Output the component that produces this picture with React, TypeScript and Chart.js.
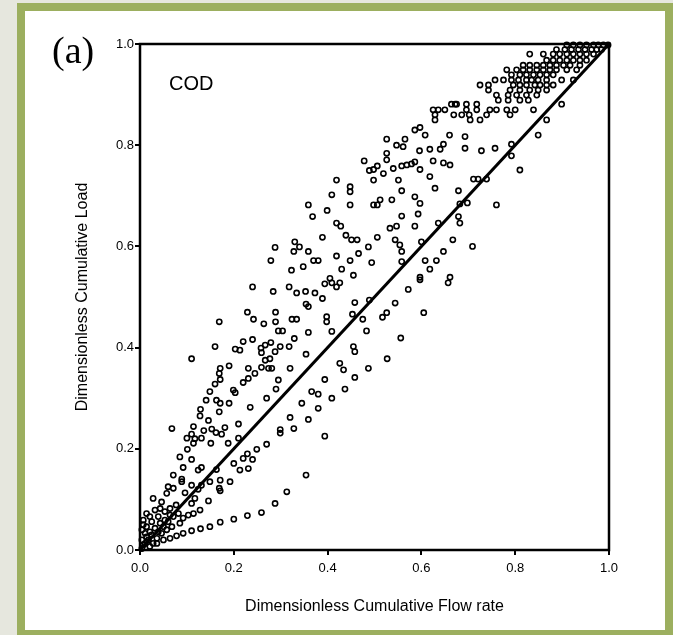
import { useEffect, useRef } from "react";
import { Chart, registerables } from "chart.js";

Chart.register(...registerables);

const xTickValues = [0, 0.2, 0.4, 0.6, 0.8, 1.0];
const yTickValues = [0, 0.2, 0.4, 0.6, 0.8, 1.0];
const xTitle = "Dimensionless Cumulative Flow rate";
const yTitle = "Dimensionless Cumulative Load";
const panelLabel = "(a)";
const pollutantLabel = "COD";

// 1:1 reference line
const lineX = [0, 1];
const lineY = [0, 1];

// observed M(V) points [flow fraction, load fraction]
const codPoints: [number, number][] = [
  [0.24, 0.52], [0.284, 0.511], [0.318, 0.52], [0.334, 0.508], [0.353, 0.511], [0.373, 0.508],
  [0.389, 0.497], [0.394, 0.526], [0.409, 0.528], [0.419, 0.52], [0.426, 0.528], [0.354, 0.486],
  [0.359, 0.481], [0.229, 0.47], [0.289, 0.47], [0.242, 0.456], [0.264, 0.447], [0.289, 0.451],
  [0.324, 0.456], [0.334, 0.456], [0.398, 0.461], [0.398, 0.451], [0.169, 0.451], [0.295, 0.433],
  [0.304, 0.433], [0.359, 0.43], [0.409, 0.432], [0.329, 0.418], [0.24, 0.416], [0.22, 0.412],
  [0.16, 0.402], [0.203, 0.397], [0.213, 0.395], [0.258, 0.399], [0.267, 0.405], [0.279, 0.41],
  [0.259, 0.39], [0.288, 0.392], [0.299, 0.402], [0.318, 0.402], [0.354, 0.387], [0.11, 0.378],
  [0.277, 0.378], [0.267, 0.375], [0.274, 0.359], [0.259, 0.361], [0.281, 0.359], [0.32, 0.359],
  [0.231, 0.359], [0.171, 0.359], [0.19, 0.364], [0.169, 0.349], [0.171, 0.337], [0.231, 0.339],
  [0.245, 0.349], [0.22, 0.331], [0.16, 0.328], [0.149, 0.313], [0.199, 0.316], [0.203, 0.311],
  [0.163, 0.296], [0.141, 0.296], [0.171, 0.29], [0.19, 0.29], [0.235, 0.282], [0.27, 0.3],
  [0.29, 0.318], [0.295, 0.336], [0.426, 0.369], [0.434, 0.356], [0.394, 0.337], [0.458, 0.341],
  [0.487, 0.359], [0.455, 0.402], [0.458, 0.392], [0.483, 0.433], [0.453, 0.466], [0.475, 0.456],
  [0.458, 0.489], [0.489, 0.494], [0.129, 0.278], [0.128, 0.265], [0.146, 0.256], [0.169, 0.273],
  [0.153, 0.239], [0.181, 0.242], [0.174, 0.229], [0.162, 0.232], [0.114, 0.244], [0.11, 0.229],
  [0.117, 0.22], [0.131, 0.221], [0.136, 0.236], [0.151, 0.211], [0.188, 0.211], [0.21, 0.249],
  [0.21, 0.221], [0.068, 0.24], [0.1, 0.221], [0.114, 0.211], [0.32, 0.262], [0.359, 0.258],
  [0.328, 0.24], [0.299, 0.238], [0.299, 0.231], [0.345, 0.29], [0.38, 0.28], [0.366, 0.313],
  [0.38, 0.308], [0.409, 0.3], [0.437, 0.318], [0.394, 0.225], [0.085, 0.184], [0.101, 0.199],
  [0.11, 0.179], [0.092, 0.163], [0.124, 0.158], [0.131, 0.163], [0.071, 0.148], [0.089, 0.135],
  [0.071, 0.122], [0.06, 0.125], [0.057, 0.112], [0.089, 0.14], [0.149, 0.135], [0.171, 0.138],
  [0.169, 0.122], [0.171, 0.117], [0.192, 0.135], [0.2, 0.171], [0.22, 0.181], [0.229, 0.19],
  [0.24, 0.179], [0.249, 0.199], [0.27, 0.209], [0.213, 0.158], [0.231, 0.161], [0.163, 0.159],
  [0.131, 0.128], [0.11, 0.128], [0.096, 0.113], [0.124, 0.12], [0.117, 0.102], [0.11, 0.092],
  [0.146, 0.097], [0.128, 0.079], [0.028, 0.102], [0.046, 0.095], [0.077, 0.089], [0.064, 0.082],
  [0.354, 0.148], [0.313, 0.115], [0.288, 0.092], [0.259, 0.074], [0.229, 0.068], [0.2, 0.061],
  [0.171, 0.055], [0.149, 0.046], [0.129, 0.042], [0.11, 0.038], [0.092, 0.033], [0.078, 0.028],
  [0.064, 0.023], [0.05, 0.02], [0.036, 0.013], [0.007, 0.059], [0.014, 0.046], [0.021, 0.036],
  [0.032, 0.043], [0.043, 0.053], [0.053, 0.059], [0.039, 0.066], [0.025, 0.056], [0.011, 0.033],
  [0.018, 0.02], [0.028, 0.013], [0.007, 0.01], [0.004, 0.02], [0.021, 0.007], [0.036, 0.023],
  [0.046, 0.033], [0.057, 0.04], [0.068, 0.046], [0.071, 0.066], [0.082, 0.072], [0.085, 0.053],
  [0.032, 0.079], [0.043, 0.082], [0.014, 0.072], [0.103, 0.069], [0.114, 0.072], [0.092, 0.063],
  [0.004, 0.003], [0.011, 0.013], [0.014, 0.026], [0.025, 0.03], [0.039, 0.036], [0.05, 0.046],
  [0.06, 0.056], [0.064, 0.069], [0.021, 0.066], [0.004, 0.04], [0.007, 0.05], [0.053, 0.076],
  [0.478, 0.769], [0.489, 0.75], [0.498, 0.752], [0.506, 0.759], [0.498, 0.731], [0.419, 0.731],
  [0.448, 0.718], [0.448, 0.708], [0.409, 0.702], [0.359, 0.682], [0.448, 0.682], [0.498, 0.682],
  [0.506, 0.682], [0.368, 0.659], [0.399, 0.671], [0.419, 0.646], [0.428, 0.64], [0.389, 0.618],
  [0.439, 0.622], [0.451, 0.613], [0.463, 0.613], [0.506, 0.618], [0.487, 0.599], [0.288, 0.598],
  [0.33, 0.609], [0.34, 0.599], [0.328, 0.59], [0.359, 0.59], [0.37, 0.572], [0.38, 0.572],
  [0.419, 0.581], [0.448, 0.572], [0.466, 0.586], [0.494, 0.568], [0.279, 0.572], [0.323, 0.553],
  [0.348, 0.56], [0.43, 0.555], [0.455, 0.543], [0.405, 0.537],
  [0.91, 0.998], [0.924, 0.998], [0.938, 0.998], [0.952, 0.998], [0.967, 0.998], [0.977, 0.998],
  [0.988, 0.998], [0.998, 0.998], [0.888, 0.989], [0.906, 0.989], [0.92, 0.989], [0.935, 0.989],
  [0.949, 0.989], [0.963, 0.989], [0.974, 0.989], [0.984, 0.989], [0.831, 0.98], [0.86, 0.98],
  [0.881, 0.98], [0.895, 0.98], [0.91, 0.98], [0.924, 0.98], [0.938, 0.98], [0.952, 0.98],
  [0.967, 0.98], [0.867, 0.968], [0.881, 0.968], [0.895, 0.968], [0.91, 0.968], [0.924, 0.968],
  [0.938, 0.968], [0.952, 0.968], [0.817, 0.958], [0.831, 0.958], [0.846, 0.958], [0.86, 0.958],
  [0.874, 0.958], [0.888, 0.958], [0.903, 0.958], [0.917, 0.958], [0.938, 0.958], [0.782, 0.949],
  [0.803, 0.949], [0.817, 0.949], [0.831, 0.949], [0.846, 0.949], [0.86, 0.949], [0.874, 0.949],
  [0.888, 0.949], [0.91, 0.949], [0.931, 0.949], [0.792, 0.939], [0.81, 0.939], [0.824, 0.939],
  [0.839, 0.939], [0.853, 0.939], [0.867, 0.939], [0.881, 0.939], [0.757, 0.929], [0.775, 0.929],
  [0.792, 0.929], [0.807, 0.929], [0.824, 0.929], [0.835, 0.929], [0.849, 0.929], [0.867, 0.929],
  [0.899, 0.929], [0.924, 0.929], [0.725, 0.919], [0.743, 0.919], [0.796, 0.919], [0.81, 0.919],
  [0.824, 0.919], [0.842, 0.919], [0.853, 0.919], [0.867, 0.919], [0.881, 0.919], [0.743, 0.909],
  [0.789, 0.909], [0.81, 0.909], [0.831, 0.909], [0.849, 0.909], [0.867, 0.909], [0.76, 0.899],
  [0.785, 0.899], [0.803, 0.899], [0.824, 0.899], [0.846, 0.899], [0.764, 0.889], [0.785, 0.889],
  [0.81, 0.889], [0.828, 0.889], [0.664, 0.881], [0.672, 0.881], [0.675, 0.881], [0.696, 0.881],
  [0.718, 0.881], [0.899, 0.881], [0.625, 0.87], [0.636, 0.87], [0.65, 0.87], [0.696, 0.87],
  [0.718, 0.87], [0.746, 0.87], [0.76, 0.87], [0.782, 0.87], [0.8, 0.87], [0.839, 0.87],
  [0.629, 0.86], [0.669, 0.86], [0.686, 0.86], [0.702, 0.86], [0.739, 0.86], [0.789, 0.86],
  [0.629, 0.85], [0.704, 0.85], [0.725, 0.85], [0.867, 0.85], [0.586, 0.83], [0.597, 0.835],
  [0.608, 0.82], [0.66, 0.82], [0.526, 0.812], [0.547, 0.8], [0.565, 0.812], [0.561, 0.797],
  [0.596, 0.789], [0.618, 0.792], [0.64, 0.792], [0.647, 0.802], [0.693, 0.817], [0.693, 0.794],
  [0.728, 0.789], [0.757, 0.794], [0.792, 0.802], [0.849, 0.82], [0.526, 0.784], [0.526, 0.771],
  [0.54, 0.754], [0.519, 0.744], [0.558, 0.759], [0.569, 0.761], [0.579, 0.763], [0.586, 0.767],
  [0.597, 0.752], [0.625, 0.769], [0.647, 0.765], [0.661, 0.761], [0.618, 0.738], [0.711, 0.733],
  [0.721, 0.733], [0.739, 0.733], [0.81, 0.751], [0.792, 0.779], [0.551, 0.731], [0.558, 0.71],
  [0.629, 0.715], [0.679, 0.71], [0.586, 0.698], [0.597, 0.685], [0.512, 0.692], [0.537, 0.692],
  [0.682, 0.684], [0.698, 0.686], [0.76, 0.682], [0.558, 0.66], [0.593, 0.664], [0.679, 0.659],
  [0.533, 0.636], [0.547, 0.64], [0.586, 0.64], [0.636, 0.646], [0.682, 0.646], [0.544, 0.613],
  [0.554, 0.603], [0.558, 0.59], [0.6, 0.609], [0.667, 0.613], [0.647, 0.59], [0.709, 0.6],
  [0.608, 0.572], [0.632, 0.572], [0.618, 0.555], [0.558, 0.57], [0.597, 0.539], [0.661, 0.539],
  [0.572, 0.515], [0.597, 0.534], [0.657, 0.528], [0.544, 0.488], [0.526, 0.469], [0.517, 0.46],
  [0.605, 0.469], [0.556, 0.419], [0.527, 0.378],
];

const FONT = "'Liberation Sans', Arial, sans-serif";

const decorPlugin = {
  id: "decor",
  beforeDraw(chart: any) {
    const { ctx, width, height } = chart;
    ctx.save();
    ctx.fillStyle = "#e6e7de";
    ctx.fillRect(0, 0, width, height);
    ctx.fillStyle = "#9caf5f";
    ctx.fillRect(17, 3, width - 17, height - 3);
    ctx.fillStyle = "#ffffff";
    ctx.fillRect(25, 11, 640, 619);
    ctx.restore();
  },
  afterDraw(chart: any) {
    const { ctx, chartArea } = chart;
    ctx.save();
    ctx.strokeStyle = "#000";
    ctx.lineWidth = 2.5;
    ctx.strokeRect(chartArea.left, chartArea.top, chartArea.right - chartArea.left, chartArea.bottom - chartArea.top);
    ctx.fillStyle = "#000";
    ctx.textBaseline = "alphabetic";
    ctx.textAlign = "left";
    ctx.font = "38px 'Liberation Serif', 'Times New Roman', serif";
    ctx.fillText(panelLabel, 52, 63);
    ctx.font = "20px " + FONT;
    ctx.fillText(pollutantLabel, chartArea.left + 29, chartArea.top + 46);
    ctx.restore();
  },
};

export default function App() {
  const ref = useRef<HTMLCanvasElement>(null);
  useEffect(() => {
    if (!ref.current) return;
    const chart = new Chart(ref.current, {
      type: "scatter",
      data: {
        datasets: [
          {
            data: codPoints.map(([x, y]) => ({ x, y })),
            pointStyle: "circle",
            pointRadius: 2.6,
            pointBorderWidth: 1.6,
            borderColor: "#000",
            backgroundColor: "rgba(255,255,255,0)",
            clip: false,
          } as any,
          {
            data: lineX.map((x, i) => ({ x, y: lineY[i] })),
            showLine: true,
            borderColor: "#000",
            borderWidth: 3,
            pointRadius: 0,
          } as any,
        ],
      },
      plugins: [decorPlugin],
      options: {
        animation: false,
        responsive: true,
        maintainAspectRatio: false,
        layout: { padding: { left: 0, top: 44, right: 64, bottom: 0 } },
        plugins: { legend: { display: false }, tooltip: { enabled: false } },
        scales: {
          x: {
            type: "linear",
            min: 0,
            max: 1,
            afterBuildTicks: (s: any) => {
              s.ticks = xTickValues.map((v) => ({ value: v }));
            },
            afterFit: (s: any) => {
              s.height = 85;
            },
            ticks: {
              color: "#000",
              font: { family: FONT, size: 13 },
              padding: 6,
              maxRotation: 0,
              callback: (v: any) => Number(v).toFixed(1),
            },
            grid: { display: true, drawOnChartArea: false, drawTicks: true, tickLength: 5, color: "#000", lineWidth: 2 },
            border: { display: false },
            title: {
              display: true,
              text: xTitle,
              color: "#000",
              font: { family: FONT, size: 16 },
              padding: { top: 0, bottom: 19 },
            },
          },
          y: {
            type: "linear",
            min: 0,
            max: 1,
            afterBuildTicks: (s: any) => {
              s.ticks = yTickValues.map((v) => ({ value: v }));
            },
            afterFit: (s: any) => {
              s.width = 140;
            },
            ticks: {
              color: "#000",
              font: { family: FONT, size: 13 },
              padding: 1,
              callback: (v: any) => Number(v).toFixed(1),
            },
            grid: { display: true, drawOnChartArea: false, drawTicks: true, tickLength: 5, color: "#000", lineWidth: 2 },
            border: { display: false },
            title: {
              display: true,
              text: yTitle,
              color: "#000",
              font: { family: FONT, size: 16 },
              padding: { top: 73, bottom: 0 },
            },
          },
        },
      },
    });
    return () => chart.destroy();
  }, []);
  return (
    <div style={{ position: "absolute", left: 0, top: 0, width: 673, height: 635 }}>
      <canvas ref={ref} />
    </div>
  );
}
